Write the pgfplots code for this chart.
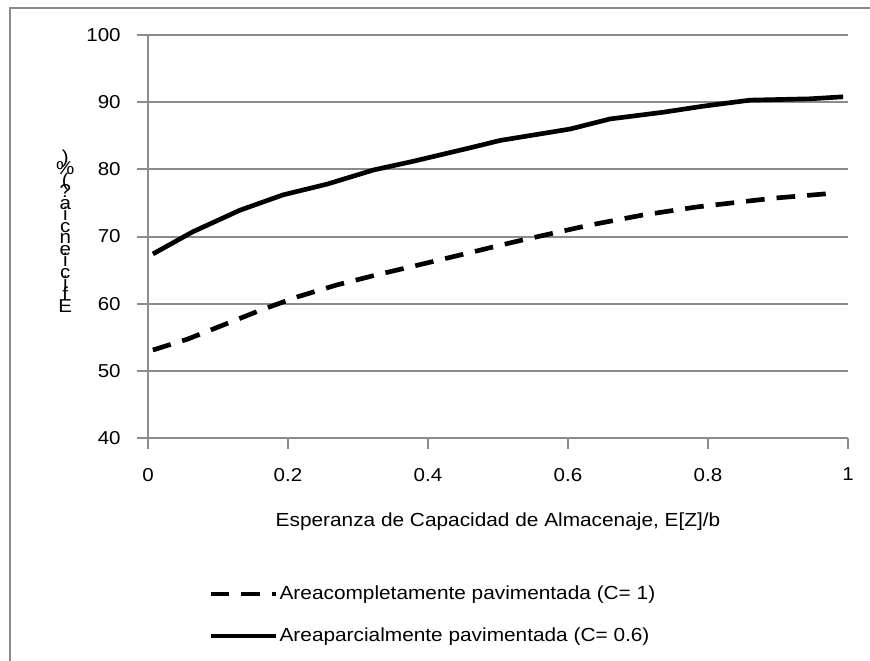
\documentclass[border=0pt]{standalone}
\usepackage{pgfplots}
\pgfplotsset{compat=1.18}
\usepackage{fontspec}
\setmainfont[FakeStretch=1.1]{Liberation Sans}
\definecolor{gridgray}{RGB}{140,140,140}
\newcommand\tightlines{\lineskiplimit=-50pt\relax\lineskip=0pt\relax}

% Efficiency curves for the two surface types
\pgfplotstableread{
x      y
0.007  53.1
0.056  54.7
0.107  56.8
0.160  59.0
0.213  61.0
0.270  62.8
0.327  64.3
0.384  65.7
0.464  67.7
0.503  68.7
0.536  69.5
0.631  71.7
0.707  73.2
0.784  74.4
0.893  75.7
0.974  76.4
}\completa

\pgfplotstableread{
x      y
0.007  67.4
0.064  70.7
0.131  73.9
0.193  76.2
0.256  77.8
0.322  79.9
0.379  81.2
0.464  83.3
0.503  84.3
0.603  86.0
0.660  87.5
0.736  88.5
0.793  89.4
0.860  90.3
0.946  90.5
0.993  90.8
}\parcial

\begin{document}
\begin{tikzpicture}[x=0.75pt,y=0.75pt]
\useasboundingbox (0,0) rectangle (870,660);
% outer chart frame
\draw[gridgray, line width=1.5pt] (10,-20) -- (10,652) -- (900,652);
\begin{axis}[
  at={(111pt,166.5pt)}, anchor=south west,
  scale only axis, width=525pt, height=302.25pt,
  xmin=0, xmax=1, ymin=40, ymax=100,
  xtick={0,0.2,0.4,0.6,0.8,1},
  xticklabels={0,0.2,0.4,0.6,0.8,1},
  ytick={40,50,60,70,80,90,100},
  axis lines*=left,
  ymajorgrids,
  grid style={gridgray, line width=1.5pt},
  axis line style={gridgray, line width=1.5pt},
  tick style={gridgray, line width=1.5pt},
  major tick length=8pt, tick align=outside,
  tick label style={font=\fontsize{14}{16}\selectfont},
  /pgf/number format/assume math mode=true,
  xticklabel style={yshift=-11pt},
  yticklabel style={xshift=-9pt},
  xlabel={Esperanza de Capacidad de Almacenaje, E[Z]/b},
  xlabel style={font=\fontsize{14.2}{16}\selectfont, at={(rel axis cs:0.5,0)}, anchor=center, yshift=-63pt},
  ylabel={)\\\%\\(\\?\\a\\i\\c\\n\\e\\i\\c\\i\\f\\E},
  ylabel style={rotate=-90, at={(rel axis cs:0,0.5)}, anchor=center, xshift=-62pt, yshift=4pt,
    align=center, font=\fontsize{14}{8.6}\selectfont\tightlines},
  legend style={draw=none, fill=none, at={(rel axis cs:0,0)}, anchor=north west,
    xshift=45pt, yshift=-109pt, inner sep=0pt, row sep=15.5pt,
    font=\fontsize{14.2}{16}\selectfont,
    nodes={inner xsep=1pt}},
  legend cell align=left,
  legend image code/.code={\draw[#1] (0pt,0pt) -- (49pt,0pt);},
]
\addplot[black, line width=3.5pt, dash pattern=on 14pt off 9pt] table[x=x,y=y] {\completa};
\addlegendentry{Areacompletamente pavimentada (C= 1)}
\addplot[black, line width=3.5pt] table[x=x,y=y] {\parcial};
\addlegendentry{Areaparcialmente pavimentada (C= 0.6)}
\end{axis}
\end{tikzpicture}
\end{document}
